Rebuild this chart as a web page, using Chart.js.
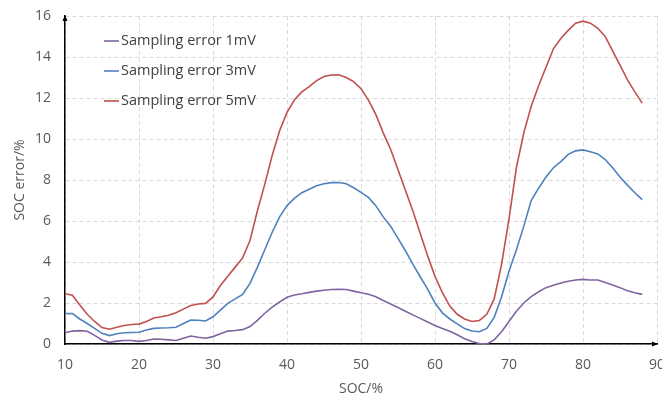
<!DOCTYPE html>
<html>
<head>
<meta charset="utf-8">
<script src="https://cdn.jsdelivr.net/npm/chart.js@4.4.1/dist/chart.umd.min.js"></script>
<style>
  html, body { margin: 0; padding: 0; background: #fff; }
  #wrap { width: 662px; height: 396px; position: relative; }
</style>
</head>
<body>
<div id="wrap"><canvas id="soc_error"></canvas></div>
<script>
// SOC points (%)
const soc = [
  10, 11, 12, 13, 14, 15, 16, 17, 18, 19,
  20, 21, 22, 23, 24, 25, 26, 27, 28, 29,
  30, 31, 32, 33, 34, 35, 36, 37, 38, 39,
  40, 41, 42, 43, 44, 45, 46, 47, 48, 49,
  50, 51, 52, 53, 54, 55, 56, 57, 58, 59,
  60, 61, 62, 63, 64, 65, 66, 67, 68, 69,
  70, 71, 72, 73, 74, 75, 76, 77, 78, 79,
  80, 81, 82, 83, 84, 85, 86, 87, 88
];

// SOC estimation error (%) for each sampling error
const err1mV = [
  0.55, 0.63, 0.65, 0.62, 0.42, 0.20, 0.08, 0.14, 0.17, 0.17,
  0.13, 0.17, 0.24, 0.23, 0.20, 0.17, 0.28, 0.39, 0.33, 0.28,
  0.36, 0.50, 0.63, 0.66, 0.70, 0.85, 1.15, 1.50, 1.80, 2.05,
  2.28, 2.39, 2.45, 2.52, 2.58, 2.62, 2.66, 2.67, 2.66, 2.58,
  2.50, 2.43, 2.30, 2.12, 1.95, 1.78, 1.60, 1.42, 1.25, 1.07,
  0.90, 0.76, 0.62, 0.45, 0.26, 0.12, 0.02, 0.00, 0.20, 0.60,
  1.10, 1.60, 2.00, 2.31, 2.55, 2.75, 2.87, 2.98, 3.06, 3.12,
  3.15, 3.12, 3.12, 3.00, 2.88, 2.75, 2.60, 2.50, 2.42
];

const err3mV = [
  1.49, 1.48, 1.22, 1.00, 0.76, 0.52, 0.41, 0.50, 0.55, 0.56,
  0.57, 0.68, 0.76, 0.78, 0.79, 0.82, 1.00, 1.17, 1.16, 1.12,
  1.33, 1.65, 1.98, 2.20, 2.42, 2.96, 3.75, 4.60, 5.45, 6.20,
  6.75, 7.10, 7.38, 7.55, 7.72, 7.82, 7.87, 7.88, 7.82, 7.62,
  7.40, 7.15, 6.75, 6.20, 5.75, 5.15, 4.55, 3.90, 3.28, 2.68,
  2.00, 1.52, 1.22, 0.98, 0.75, 0.63, 0.60, 0.76, 1.30, 2.31,
  3.55, 4.60, 5.75, 7.00, 7.60, 8.15, 8.60, 8.90, 9.25, 9.42,
  9.47, 9.38, 9.27, 9.00, 8.60, 8.15, 7.75, 7.38, 7.04
];

const err5mV = [
  2.45, 2.38, 1.90, 1.45, 1.10, 0.80, 0.72, 0.82, 0.90, 0.95,
  0.97, 1.10, 1.27, 1.33, 1.40, 1.52, 1.70, 1.88, 1.95, 1.98,
  2.30, 2.85, 3.30, 3.75, 4.20, 5.05, 6.50, 7.80, 9.20, 10.40,
  11.30, 11.90, 12.30, 12.55, 12.85, 13.05, 13.12, 13.13, 13.00, 12.80,
  12.45, 11.90, 11.20, 10.30, 9.50, 8.50, 7.50, 6.50, 5.40, 4.30,
  3.30, 2.50, 1.85, 1.45, 1.22, 1.10, 1.15, 1.45, 2.20, 3.90,
  6.10, 8.60, 10.30, 11.60, 12.60, 13.50, 14.40, 14.90, 15.30, 15.65,
  15.75, 15.65, 15.40, 15.00, 14.30, 13.60, 12.90, 12.30, 11.75
];

const seriesNames = ['Sampling error 1mV', 'Sampling error 3mV', 'Sampling error 5mV'];
const seriesColors = ['#8064A2', '#4F81BD', '#C0504D'];

const FONT = "'Open Sans', 'Noto Sans', sans-serif";

function toPoints(values) {
    return soc.map((s, i) => ({x: s, y: values[i]}));
}

// legend drawn inside the plot, stacked vertically
const innerLegend = {
    id: 'innerLegend',
    afterDraw(chart) {
        const ctx = chart.ctx;
        ctx.save();
        ctx.font = '14.5px ' + FONT;
        ctx.textBaseline = 'middle';
        chart.data.datasets.forEach((ds, i) => {
            const y = 41 + i * 30;
            ctx.strokeStyle = ds.borderColor;
            ctx.lineWidth = 1.6;
            ctx.beginPath();
            ctx.moveTo(104, y);
            ctx.lineTo(119, y);
            ctx.stroke();
            ctx.fillStyle = '#404040';
            ctx.fillText(ds.label, 121, y);
        });
        ctx.restore();
    }
};

// arrow heads on both axes
const axisArrows = {
    id: 'axisArrows',
    afterDraw(chart) {
        const {ctx, chartArea} = chart;
        const {left, right, top, bottom} = chartArea;
        ctx.save();
        ctx.fillStyle = '#000';
        ctx.beginPath();
        ctx.moveTo(left, top - 1);
        ctx.lineTo(left - 2.5, top + 5);
        ctx.lineTo(left + 2.5, top + 5);
        ctx.closePath();
        ctx.fill();
        ctx.beginPath();
        ctx.moveTo(right + 1, bottom);
        ctx.lineTo(right - 5, bottom - 2.5);
        ctx.lineTo(right - 5, bottom + 2.5);
        ctx.closePath();
        ctx.fill();
        ctx.restore();
    }
};

const ctx = document.getElementById('soc_error').getContext('2d');

const config = {
    type: 'line',
    data: {
        datasets: [err1mV, err3mV, err5mV].map((vals, i) => ({
            label: seriesNames[i],
            data: toPoints(vals),
            borderColor: seriesColors[i],
            backgroundColor: seriesColors[i],
            borderWidth: 1.6,
            pointRadius: 0,
            tension: 0,
            fill: false,
        })),
    },
    options: {
        responsive: true,
        maintainAspectRatio: false,
        animation: false,
        layout: {
            padding: {top: 16, right: 5, left: 0, bottom: 0},
        },
        plugins: {
            legend: {display: false},
            tooltip: {enabled: false},
        },
        scales: {
            x: {
                type: 'linear',
                min: 10,
                max: 90,
                ticks: {
                    stepSize: 10,
                    color: '#595959',
                    font: {family: FONT, size: 14},
                    padding: -4,
                },
                grid: {
                    color: '#d9d9d9',
                    drawTicks: true,
                    tickLength: 17,
                    tickColor: 'rgba(0,0,0,0)',
                },
                border: {color: '#000', width: 1.5, dash: [4, 3]},
                title: {
                    display: true,
                    text: 'SOC/%',
                    color: '#595959',
                    font: {family: FONT, size: 14},
                    padding: {top: 0, bottom: -1},
                },
                afterFit(scale) { scale.height = 52; },
            },
            y: {
                min: 0,
                max: 16,
                ticks: {
                    stepSize: 2,
                    color: '#595959',
                    font: {family: FONT, size: 14},
                    padding: 0,
                },
                grid: {
                    color: '#d9d9d9',
                    drawTicks: true,
                    tickLength: 14,
                    tickColor: 'rgba(0,0,0,0)',
                },
                border: {color: '#000', width: 1.5, dash: [4, 3]},
                title: {
                    display: true,
                    text: 'SOC error/%',
                    color: '#595959',
                    font: {family: FONT, size: 14},
                    padding: {top: 12, bottom: 0},
                },
                afterFit(scale) { scale.width = 65; },
            },
        },
    },
    plugins: [innerLegend, axisArrows],
};

const chart = new Chart(ctx, config);
</script>
</body>
</html>
